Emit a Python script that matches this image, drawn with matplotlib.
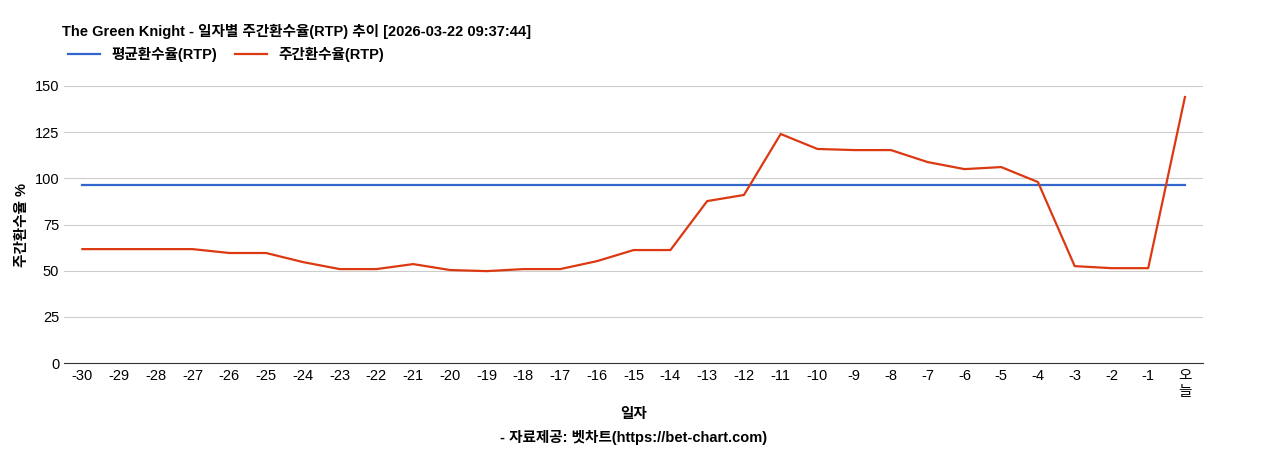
import matplotlib
matplotlib.use("Agg")
import matplotlib.pyplot as plt

plt.rcParams['font.family'] = ['Liberation Sans', 'Noto Sans CJK KR', 'DejaVu Sans']

labels = [str(i) for i in range(-30, 0)] + ["오\n늘"]
weekly = [61.7, 61.7, 61.7, 61.7, 59.6, 59.6, 54.7, 50.9, 50.9, 53.6, 50.4, 49.8, 50.9, 50.9,
          55.2, 61.2, 61.2, 87.7, 91.0, 124.0, 115.9, 115.3, 115.3, 108.8, 105.0, 106.1, 98.0,
          52.5, 51.4, 51.4, 144.0]
avg = [96.4] * len(labels)

fig = plt.figure(figsize=(12.68, 4.5), dpi=100)
ax = fig.add_axes([0.0505, 0.193, 0.8985, 0.616])
x = list(range(len(labels)))
ax.plot(x, avg, color='#3366cc', lw=1.6, label='평균환수율(RTP)')
ax.plot(x, weekly, color='#dc3912', lw=1.6, label='주간환수율(RTP)')
ax.set_xlim(-0.5, len(labels) - 0.5)
ax.set_ylim(0, 150)
ax.set_yticks([0, 25, 50, 75, 100, 125, 150])
ax.set_xticks(x)
ax.set_xticklabels(labels, fontsize=10.5)
ax.tick_params(axis='y', labelsize=10.5, length=0)
ax.tick_params(axis='x', length=0, pad=4)
ax.grid(axis='y', color='#cccccc', lw=0.8)
for s in ['top', 'right', 'left']:
    ax.spines[s].set_visible(False)
ax.spines['bottom'].set_color('#333333')
ax.set_axisbelow(True)
ax.set_ylabel('주간환수율 %', fontsize=10.5, fontweight='bold')
ax.set_xlabel('일자', fontsize=10.5, fontweight='bold', labelpad=6)
fig.text(0.049, 0.93, 'The Green Knight - 일자별 주간환수율(RTP) 추이 [2026-03-22 09:37:44]',
         fontsize=10.5, fontweight='bold', va='center')
fig.legend(loc='center left', bbox_to_anchor=(0.043, 0.878), ncol=2, frameon=False,
           prop={'weight': 'bold', 'size': 10.5}, handlelength=2.2, columnspacing=1.2)
fig.text(0.5, 0.028, '- 자료제공: 벳차트(https://bet-chart.com)', ha='center', va='center',
         fontsize=10.5, fontweight='bold')
fig.savefig('out.png', dpi=100)
